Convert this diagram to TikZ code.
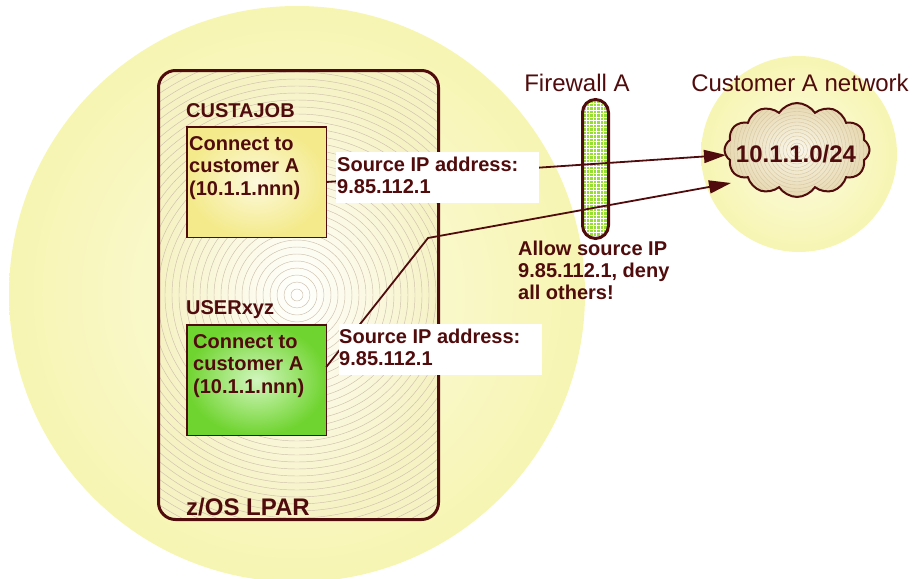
\documentclass[tikz,border=0pt]{standalone}
\usepackage{fontspec}
\setmainfont{Liberation Sans}
\usetikzlibrary{arrows.meta,shapes.symbols}
\definecolor{mar}{RGB}{80,12,12}
\definecolor{circout}{RGB}{247,245,178}
\definecolor{circin}{RGB}{252,251,226}
\definecolor{lparout}{RGB}{246,242,196}
\definecolor{ringc}{RGB}{205,192,172}
\definecolor{ylout}{RGB}{244,234,140}
\definecolor{ylin}{RGB}{252,249,220}
\definecolor{grout}{RGB}{112,212,48}
\definecolor{grin}{RGB}{210,246,190}
\definecolor{fwgreen}{RGB}{150,222,50}
\definecolor{cloudout}{RGB}{230,216,176}
\definecolor{cloudin}{RGB}{250,247,236}
\definecolor{cloudring}{RGB}{212,196,156}
\begin{document}
\begin{tikzpicture}[x=1pt,y=-1pt,
  txt/.style={text=mar, inner sep=0pt, anchor=base west, font=\fontsize{20}{22.5}\selectfont\bfseries},
  bigtxt/.style={text=mar, inner sep=0pt, anchor=base, font=\fontsize{24}{27}\selectfont},
  bigbold/.style={text=mar, inner sep=0pt, font=\fontsize{24}{27}\selectfont\bfseries},
  jobbox/.style={draw=mar, line width=1.5pt, minimum width=139.5pt, minimum height=110.5pt, inner sep=0pt, outer sep=0pt, shading=radial},
  lblbox/.style={fill=white, minimum width=203pt, minimum height=51pt, inner sep=0pt},
  arr/.style={draw=mar, line width=1.8pt, -{Triangle[length=22pt,width=13pt]}},
  rings/.style={draw=ringc, line width=0.45pt}]
\useasboundingbox (0,0) rectangle (915,578);

% background circles
\shade[inner color=circin, outer color=circout] (297,294) circle (288pt);
\shade[inner color=circin, outer color=circout] (799,154) circle (98pt);

% z/OS LPAR
\node[shading=radial, inner color=white, outer color=lparout, minimum width=280pt, minimum height=449pt,
      rounded corners=17pt, inner sep=0pt, outer sep=0pt,
      path picture={\foreach \r in {6,13,...,272} \draw[rings] ([xshift=-1.5pt]path picture bounding box.center) circle (\r pt);}]
      (lpar) at (298.5,295) {};
\draw[mar, line width=3pt, rounded corners=17pt] (lpar.north west) rectangle (lpar.south east);

% job boxes
\node[jobbox, inner color=ylin, outer color=ylout] (cjob) at (256.5,182) {};
\node[jobbox, inner color=grin, outer color=grout] (uxyz) at (256.5,380) {};

\node[txt] (cjobname) at (186,117) {CUSTAJOB};
\node[txt] (cjobtext) at (189,150) {\begin{tabular}[t]{@{}l@{}}Connect to\\customer A\\(10.1.1.nnn)\end{tabular}};
\node[txt] (uxyzname) at (186,314) {USERxyz};
\node[txt] (uxyztext) at (193,348) {\begin{tabular}[t]{@{}l@{}}Connect to\\customer A\\(10.1.1.nnn)\end{tabular}};
\node[bigbold, anchor=base west] (lparname) at (186,515) {z/OS LPAR};

% titles
\node[bigtxt] (fwname) at (577,92) {Firewall A};
\node[bigtxt] (netname) at (800,92) {Customer A network};

% firewall
\node[rounded corners=13pt, minimum width=26pt, minimum height=139pt, inner sep=0pt, outer sep=0pt, fill=fwgreen,
      path picture={
        \foreach \k in {0,3.5,...,150} {
          \draw[white, line width=0.7pt] ([yshift=-\k pt]path picture bounding box.north west) -- ([yshift=-\k pt]path picture bounding box.north east);
        }
        \foreach \k in {0,3.5,...,30} {
          \draw[white, line width=0.7pt] ([xshift=\k pt]path picture bounding box.north west) -- ([xshift=\k pt]path picture bounding box.south west);
        }
      }] (fw) at (595.5,169) {};
\draw[mar, line width=3pt, rounded corners=13pt] (fw.north west) rectangle (fw.south east);

% cloud
\node[cloud, cloud puffs=12, cloud puff arc=115, aspect=1.55, minimum width=145pt, minimum height=94pt,
      inner sep=0pt, draw=mar, line width=2pt, shading=radial, inner color=cloudin, outer color=cloudout,
      path picture={\foreach \r in {3.5,7,...,90} \draw[draw=cloudring, line width=0.35pt] (path picture bounding box.center) circle (\r pt);}]
      (cloud) at (797,150) {};
\node[bigbold, anchor=base] (cidr) at (796,162) {10.1.1.0/24};

% connectors
\coordinate (tip1) at (726,155);
\coordinate (tip2) at (731,183);
\coordinate (bend) at (428,238);
\draw[arr] (cjob.east) -- (tip1);
\draw[arr] ([yshift=13pt]uxyz.east) -- (bend) -- (tip2);

% labels
\node[lblbox] (lbl1) at (437.5,177.5) {};
\node[txt] (lbl1t) at (337,171) {\begin{tabular}[t]{@{}l@{}}Source IP address:\\9.85.112.1\end{tabular}};
\node[lblbox] (lbl2) at (440.5,349) {};
\node[txt] (lbl2t) at (339,343) {\begin{tabular}[t]{@{}l@{}}Source IP address:\\9.85.112.1\end{tabular}};

\node[txt, font=\fontsize{20}{22}\selectfont\bfseries] (rule) at (518,255) {\begin{tabular}[t]{@{}l@{}}Allow source IP\\9.85.112.1, deny\\all others!\end{tabular}};
\end{tikzpicture}
\end{document}
